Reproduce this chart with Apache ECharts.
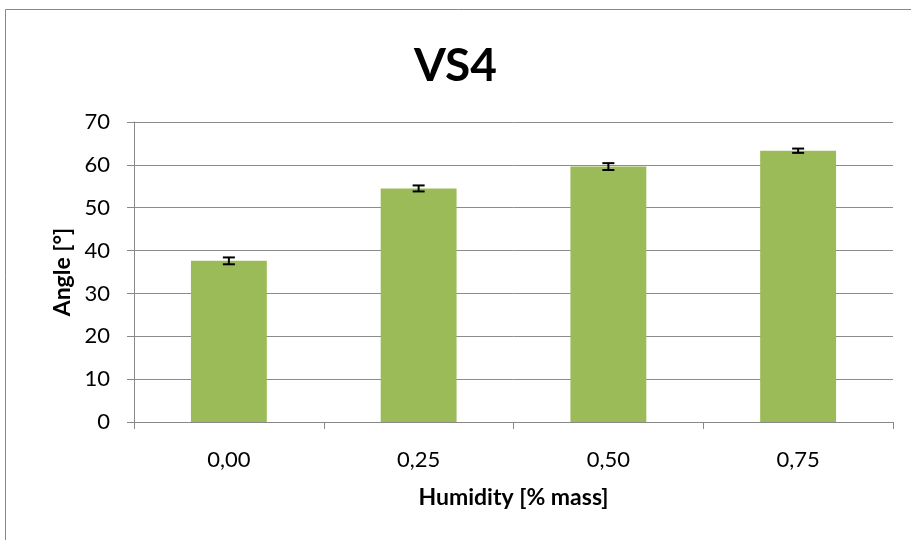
<!DOCTYPE html>
<html>
<head>
<meta charset="utf-8">
<script src="https://cdn.jsdelivr.net/npm/echarts@6/dist/echarts.min.js"></script>
<style>
html, body { margin: 0; padding: 0; background: #fff; }
#chart { width: 911px; height: 540px; }
</style>
</head>
<body>
<div id="chart"></div>
<script>
var categories = ['0,00', '0,25', '0,50', '0,75'];
var angles = [37.6, 54.5, 59.6, 63.3];
var errors = [0.8, 0.7, 0.8, 0.5];

var font = 'Lato, "Open Sans", sans-serif';
var myChart = echarts.init(document.getElementById('chart'));

var option = {
    animation: false,
    title: {
        text: 'VS4',
        left: 'center',
        top: 38,
        textStyle: { fontFamily: font, fontSize: 46, fontWeight: 'bold', color: '#000' }
    },
    graphic: [
        {
            type: 'rect',
            shape: { x: 5.5, y: 9.5, width: 1000, height: 1000 },
            style: { fill: 'none', stroke: '#888', lineWidth: 1 },
            silent: true
        }
    ],
    grid: { left: 134, right: 18, top: 122, bottom: 118 },
    xAxis: {
        type: 'category',
        data: categories,
        name: 'Humidity [% mass]',
        nameLocation: 'middle',
        nameGap: 64,
        nameTextStyle: { fontFamily: font, fontSize: 23, fontWeight: 'bold', color: '#000' },
        axisLine: { lineStyle: { color: '#888', width: 1 } },
        axisTick: { show: true, length: 7, lineStyle: { color: '#888' } },
        axisLabel: { fontFamily: font, fontSize: 22, color: '#000', margin: 27 }
    },
    yAxis: {
        type: 'value',
        min: 0,
        max: 70,
        interval: 10,
        name: 'Angle [°]',
        nameLocation: 'middle',
        nameRotate: 90,
        nameGap: 60,
        nameTextStyle: { fontFamily: font, fontSize: 23, fontWeight: 'bold', color: '#000' },
        axisLine: { show: true, lineStyle: { color: '#888', width: 1 } },
        axisTick: { show: true, length: 7, lineStyle: { color: '#888' } },
        axisLabel: { fontFamily: font, fontSize: 22, color: '#000', margin: 24 },
        splitLine: { lineStyle: { color: '#8c8c8c', width: 1 } }
    },
    series: [
        {
            type: 'bar',
            data: angles,
            barWidth: '40%',
            itemStyle: { color: '#9BBB59' }
        },
        {
            type: 'custom',
            data: angles.map(function (v, i) { return [i, v - errors[i], v + errors[i]]; }),
            renderItem: function (params, api) {
                var lo = api.coord([api.value(0), api.value(1)]);
                var hi = api.coord([api.value(0), api.value(2)]);
                var hw = 6;
                var st = { stroke: '#000', lineWidth: 2 };
                return {
                    type: 'group',
                    children: [
                        { type: 'line', shape: { x1: lo[0], y1: lo[1], x2: hi[0], y2: hi[1] }, style: st },
                        { type: 'line', shape: { x1: lo[0] - hw, y1: lo[1], x2: lo[0] + hw, y2: lo[1] }, style: st },
                        { type: 'line', shape: { x1: hi[0] - hw, y1: hi[1], x2: hi[0] + hw, y2: hi[1] }, style: st }
                    ]
                };
            },
            z: 10
        }
    ]
};
myChart.setOption(option);
</script>
</body>
</html>
